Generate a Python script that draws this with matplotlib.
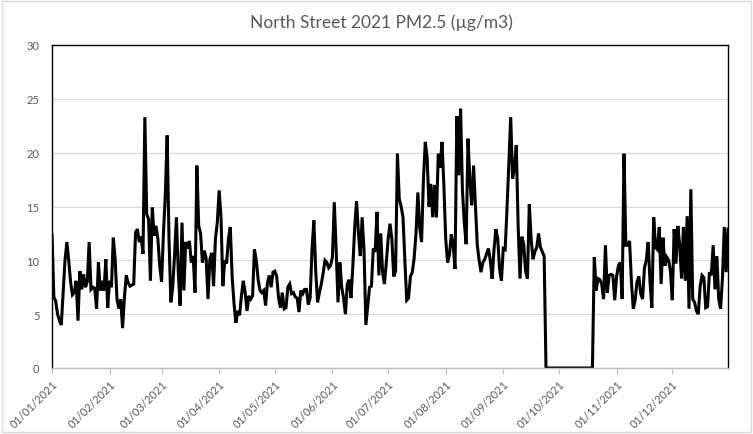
import numpy as np
import pandas as pd
import matplotlib
matplotlib.use("Agg")
import matplotlib.pyplot as plt
import matplotlib.dates as mdates
from matplotlib.patches import Rectangle

# daily PM2.5 readings, one list per month (blank days plotted as 0)
jan = [12.4, 6.6, 6.2, 5.0, 4.4, 4.0, 7.0, 10.0, 11.7, 10.0, 8.0, 6.8, 7.0, 8.1, 4.4, 9.0,
       7.3, 8.7, 7.5, 8.0, 11.7, 7.3, 7.5, 7.4, 5.5, 9.8, 7.2, 8.1, 7.2, 10.1, 5.6]
feb = [8.1, 7.5, 12.1, 10.1, 6.4, 5.5, 6.4, 3.7, 6.6, 8.6, 7.9, 7.6, 7.7, 7.8, 12.6, 12.9,
       11.7, 12.2, 10.6, 23.3, 14.3, 13.8, 8.1, 14.9, 12.3, 13.2, 12.0, 9.5]
mar = [8.0, 12.5, 16.0, 21.6, 12.0, 6.1, 7.5, 10.5, 14.0, 8.9, 5.8, 13.5, 7.2, 11.7, 11.1, 11.8,
       9.8, 10.4, 7.0, 18.8, 13.2, 12.5, 9.8, 10.9, 10.2, 6.4, 10.1, 10.7, 7.6, 12.0, 13.5]
apr = [16.5, 14.0, 7.6, 10.0, 9.7, 12.0, 13.1, 8.5, 6.0, 4.2, 5.3, 4.9, 6.7, 8.1, 7.0,
       5.3, 6.7, 6.4, 6.7, 11.0, 10.0, 8.2, 7.2, 7.0, 7.2, 5.8, 7.9, 8.6, 7.5, 8.9]
may = [9.0, 8.5, 6.5, 5.6, 7.0, 5.5, 5.6, 7.5, 7.8, 6.9, 7.0, 6.6, 6.5, 5.2, 7.2, 6.9,
       7.3, 7.3, 5.9, 6.5, 11.0, 13.7, 9.0, 6.1, 7.0, 7.8, 8.8, 10.0, 9.8, 9.3, 9.5]
jun = [10.3, 15.4, 11.0, 6.1, 9.8, 7.5, 6.5, 5.0, 7.8, 8.2, 6.5, 9.5, 13.1, 15.5, 12.5,
       10.4, 14.0, 11.0, 4.0, 5.8, 7.5, 7.6, 11.1, 10.8, 14.5, 8.6, 12.5, 8.9, 7.8, 9.8]
jul = [12.0, 13.4, 12.0, 8.5, 9.0, 19.9, 15.7, 15.0, 14.0, 10.0, 6.3, 6.5, 8.5, 8.9, 10.2, 12.5,
       16.3, 13.0, 11.7, 17.5, 21.0, 19.5, 15.0, 17.1, 14.0, 17.0, 14.0, 19.9, 18.6, 21.0, 17.0]
aug = [12.0, 9.8, 10.5, 12.4, 11.5, 9.2, 23.4, 17.9, 24.1, 16.5, 13.5, 11.5, 21.3, 17.5, 15.1, 18.8,
       15.0, 11.4, 10.0, 8.9, 9.8, 10.1, 10.6, 11.1, 10.0, 8.3, 11.0, 12.9, 12.0, 9.2, 8.1]
sep = [11.1, 11.0, 14.8, 19.0, 23.3, 17.6, 18.5, 20.7, 13.2, 8.3, 12.2, 11.5, 9.0, 8.3, 15.2,
       12.0, 10.1, 10.8, 11.2, 12.5, 11.2, 10.8, 10.4, 0, 0, 0, 0, 0, 0, 0]
oct = [0, 0, 0, 0, 0, 0, 0, 0, 0, 0, 0, 0, 0, 0, 0, 0, 0, 0, 0, 10.3, 7.2, 8.3, 8.2, 7.8,
       6.4, 11.4, 7.0, 8.6, 8.7, 8.6, 6.3]
nov = [8.5, 9.5, 9.8, 6.4, 19.9, 11.4, 11.4, 11.8, 8.0, 5.5, 6.3, 8.0, 8.5, 6.9, 6.4,
       9.3, 10.0, 11.7, 8.0, 5.6, 14.0, 11.2, 11.0, 13.1, 7.8, 12.1, 9.5, 10.3, 10.0, 9.0]
dec = [6.3, 12.9, 9.7, 13.2, 11.4, 8.3, 13.1, 8.1, 14.1, 5.5, 16.6, 6.4, 6.1, 5.3, 5.0, 7.6,
       8.6, 8.4, 5.6, 5.7, 8.9, 8.6, 11.4, 7.3, 10.4, 6.4, 5.5, 8.3, 13.1, 8.9, 12.9]

pm25 = jan + feb + mar + apr + may + jun + jul + aug + sep + oct + nov + dec
days = pd.date_range("2021-01-01", "2021-12-31", freq="D")

grey = "#595959"
plt.rcParams['font.family'] = ['Lato', 'DejaVu Sans']

fig = plt.figure(figsize=(7.53, 4.35), dpi=100)
ax = fig.add_axes([52/753, 66/435, 676/753, 323/435])

ax.plot(days, pm25, color="black", lw=2.2, solid_joinstyle="miter")

ax.set_xlim(days[0], days[-1])
ax.set_ylim(0, 30)
ax.set_yticks(range(0, 31, 5))
ax.yaxis.grid(True, color="#d9d9d9", lw=0.8)
ax.set_axisbelow(True)

ax.xaxis.set_major_locator(mdates.MonthLocator())
ax.xaxis.set_major_formatter(mdates.DateFormatter("%d/%m/%Y"))
ax.tick_params(axis="x", length=4, color="#bfbfbf", labelsize=8, labelcolor=grey, pad=3)
ax.tick_params(axis="y", length=0, labelsize=8, labelcolor=grey, pad=9)
for lab in ax.get_xticklabels():
    lab.set_rotation(45)
    lab.set_ha("right")
    lab.set_va("top")
    lab.set_rotation_mode("anchor")

for s in ["left", "top", "right"]:
    ax.spines[s].set_color("black")
    ax.spines[s].set_linewidth(1.0)
ax.spines["bottom"].set_color("#bfbfbf")
ax.spines["bottom"].set_linewidth(1.0)

fig.text(0.507, 0.948, "North Street 2021 PM2.5 (µg/m3)", ha="center", va="center",
         fontsize=12.5, color=grey)

# light outer chart border
fig.patches.append(Rectangle((0.003, 0.004), 0.994, 0.992, transform=fig.transFigure,
                             fill=False, edgecolor="#d9d9d9", lw=1))

fig.savefig("out.png", dpi=100)
